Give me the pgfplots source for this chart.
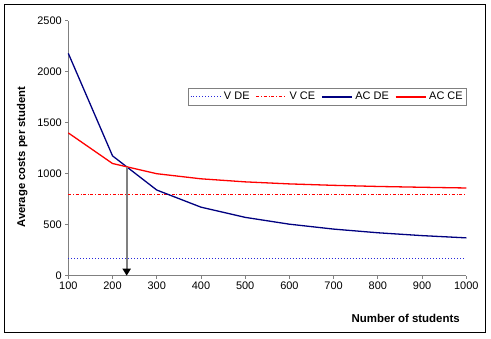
\documentclass[border=0pt]{standalone}
\usepackage{pgfplots}
\pgfplotsset{compat=1.18}
\usepackage{fontspec}
\setmainfont{Liberation Sans}
\usetikzlibrary{arrows.meta}
\definecolor{navy}{RGB}{0,0,128}
\definecolor{vde}{RGB}{40,40,220}
\definecolor{axgray}{RGB}{128,128,128}
\begin{document}
\begin{tikzpicture}[x=1bp,y=1bp]
\useasboundingbox (-68.3,-62.3) rectangle (422.7,275.7);
\draw[black,line width=0.9bp] (-64.3,-56.3) rectangle (417,271.7);
\begin{axis}[
  at={(0,0)}, anchor=origin,
  scale only axis, width=398bp, height=255bp,
  xmin=100, xmax=1000, ymin=0, ymax=2500,
  xtick={100,200,...,1000}, ytick={0,500,...,2500},
  axis x line*=bottom, axis y line*=left,
  axis line style={axgray, line width=0.8bp, -},
  tick align=outside, major tick length=3bp,
  tick style={axgray, line width=0.8bp},
  every tick label/.append style={font=\fontsize{11}{13}\selectfont},
  /pgf/number format/assume math mode=true,
  /pgf/number format/1000 sep={},
  xlabel={\textbf{Number of students}},
  xlabel style={at={(axis description cs:1,-0.166)}, anchor=east, xshift=-3bp, font=\fontsize{11.5}{13}\selectfont},
  ylabel={\textbf{Average costs per student}},
  ylabel style={at={(axis description cs:-0.1156,0.465)}, anchor=center, font=\fontsize{11.3}{13}\selectfont},
  legend columns=4,
  legend style={at={(0.30,0.736)}, anchor=north west, draw=axgray, line width=0.6bp,
    font=\fontsize{11}{13}\selectfont, inner sep=2bp,
    /tikz/every even column/.append style={column sep=4bp},
    /tikz/every odd column/.append style={column sep=1bp}},
  legend image code/.code={\draw[#1] (0bp,0bp) -- (30bp,0bp);},
  legend cell align=left,
  clip=false,
]
\addplot[vde, dotted, line width=1bp] coordinates {(100,170)(1000,170)};
\addlegendentry{V DE}
\addplot[red, dash dot, line width=1bp] coordinates {(100,800)(1000,800)};
\addlegendentry{V CE}
\addplot[navy, line width=1.3bp] coordinates {(100,2180)(200,1175)(300,840)(400,672)(500,572)(600,505)(700,457)(800,421)(900,393)(1000,371)};
\addlegendentry{AC DE}
\addplot[red, line width=1.3bp] coordinates {(100,1400)(200,1100)(300,1000)(400,950)(500,920)(600,900)(700,886)(800,875)(900,867)(1000,860)};
\addlegendentry{AC CE}
\addplot[axgray, line width=1.8bp, -{Triangle[black,length=7bp,width=8bp]}, forget plot] coordinates {(232,1068)(232,0)};
\end{axis}
\end{tikzpicture}
\end{document}
